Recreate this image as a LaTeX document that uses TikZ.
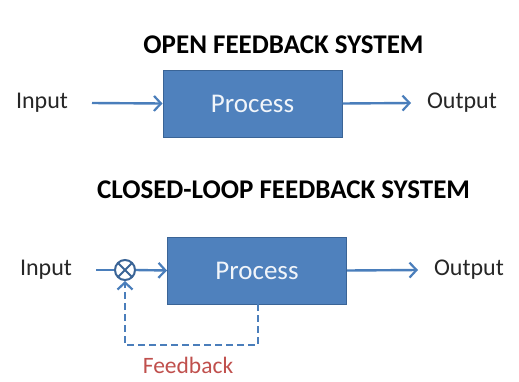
\documentclass[tikz,border=0pt]{standalone}
\usepackage{fontspec}
\setmainfont{Carlito}
\usetikzlibrary{arrows.meta}
\definecolor{procblue}{HTML}{4F81BD}
\definecolor{procedge}{HTML}{3A6496}
\definecolor{lineblue}{HTML}{4A7EBB}
\definecolor{fbred}{HTML}{C0504D}
\tikzset{>={Straight Barb[length=7pt,width=15pt,line width=2.2pt]}}

\begin{document}
\begin{tikzpicture}[x=1pt,y=-1pt,
    procbox/.style={draw=procedge,line width=1pt,fill=procblue,text=white!92!procblue,
      minimum width=179pt,minimum height=67pt,font=\fontsize{27}{32}\selectfont},
    label/.style={font=\fontsize{24}{28}\selectfont,text=black!85},
    heading/.style={font=\bfseries\fontsize{27}{32}\selectfont},
    flow/.style={->,draw=lineblue,line width=2.4pt},
    fback/.style={->,draw=lineblue,line width=2.4pt,dash pattern=on 7pt off 4pt},
    sumjunc/.style={circle,draw=procedge,line width=2pt,minimum size=20pt,inner sep=0pt,
      path picture={\draw[procedge,line width=1.8pt]
        (path picture bounding box.north west) -- (path picture bounding box.south east)
        (path picture bounding box.north east) -- (path picture bounding box.south west);}}]
  \useasboundingbox (0,0) rectangle (519,381);
  % open system
  \node[heading] (title1) at (283.5,45) {OPEN FEEDBACK SYSTEM};
  \node[procbox] (proc1) at (252.5,103.5) {Process};
  \node[label] (in1) at (42,103) {Input};
  \node[label] (out1) at (462,103) {Output};
  \coordinate (in1end) at (92,103);
  \coordinate (out1end) at (411,103);
  \draw[flow] (in1end) -- (proc1.west);
  \draw[flow] (proc1.east) -- (out1end);
  % closed loop system
  \node[heading] (title2) at (283.5,190) {CLOSED-LOOP FEEDBACK SYSTEM};
  \node[procbox] (proc2) at (257,270.5) {Process};
  \node[label] (in2) at (46,270) {Input};
  \node[label] (out2) at (469,270) {Output};
  \node[sumjunc] (sum) at (125,270) {};
  \coordinate (in2end) at (96,270);
  \coordinate (out2end) at (418,270);
  \draw[lineblue,line width=2.4pt] (in2end) -- (sum.west);
  \draw[flow] (sum.east) -- (proc2.west);
  \draw[flow] (proc2.east) -- (out2end);
  \coordinate (fbtap) at (258,304);
  \coordinate (fbcorner) at (258,345);
  \draw[fback] (fbtap) -- (fbcorner) -| (sum.south);
  \node[font=\fontsize{23.5}{28}\selectfont,text=fbred] (fblabel) at (188,365) {Feedback};
\end{tikzpicture}
\end{document}
